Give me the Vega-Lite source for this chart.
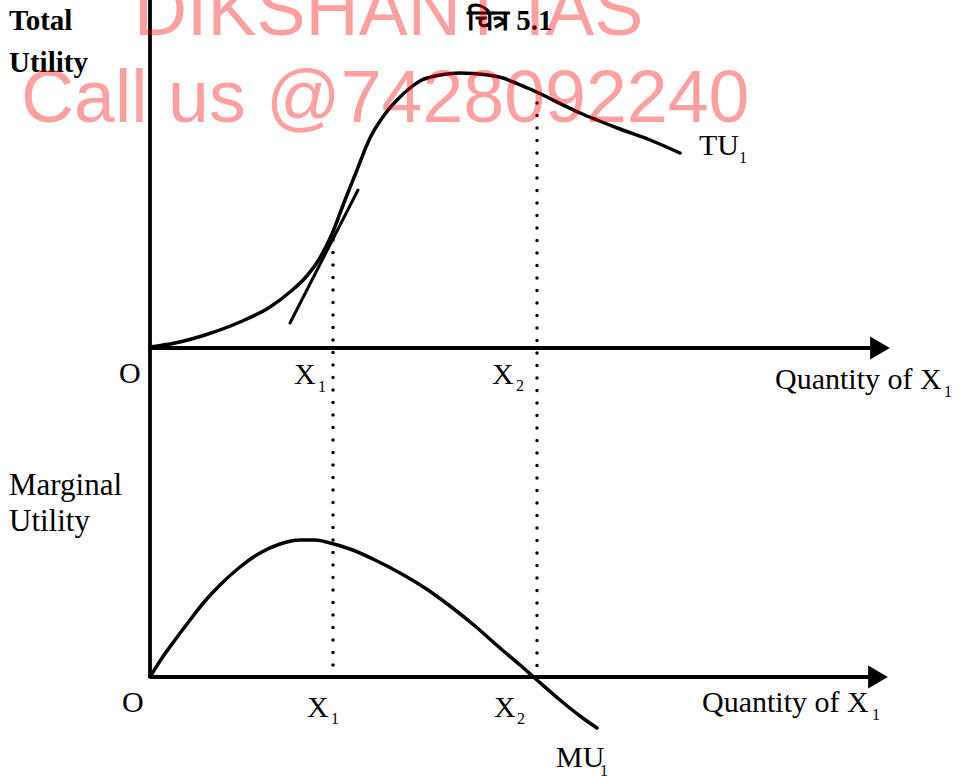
{
  "$schema": "https://vega.github.io/schema/vega-lite/v6.json",
  "width": 970,
  "height": 776,
  "autosize": {"type": "none"},
  "padding": 0,
  "background": "white",
  "config": {"view": {"stroke": null}},
  "datasets": {
    "lines": [
      {"g": "axis", "id": "vy", "o": 0, "x": 150, "y": 0},
      {"g": "axis", "id": "vy", "o": 1, "x": 150, "y": 678},
      {"g": "axis", "id": "hx1", "o": 0, "x": 150, "y": 348},
      {"g": "axis", "id": "hx1", "o": 1, "x": 872, "y": 348},
      {"g": "axis", "id": "hx2", "o": 0, "x": 150, "y": 677},
      {"g": "axis", "id": "hx2", "o": 1, "x": 870, "y": 677},

      {"g": "curve", "id": "TU", "o": 0, "x": 150, "y": 347},
      {"g": "curve", "id": "TU", "o": 1, "x": 175, "y": 343},
      {"g": "curve", "id": "TU", "o": 2, "x": 205, "y": 335},
      {"g": "curve", "id": "TU", "o": 3, "x": 240, "y": 322},
      {"g": "curve", "id": "TU", "o": 4, "x": 270, "y": 307},
      {"g": "curve", "id": "TU", "o": 5, "x": 290, "y": 292},
      {"g": "curve", "id": "TU", "o": 6, "x": 305, "y": 278},
      {"g": "curve", "id": "TU", "o": 7, "x": 318, "y": 261},
      {"g": "curve", "id": "TU", "o": 8, "x": 332, "y": 234},
      {"g": "curve", "id": "TU", "o": 9, "x": 345, "y": 200},
      {"g": "curve", "id": "TU", "o": 10, "x": 355, "y": 175},
      {"g": "curve", "id": "TU", "o": 11, "x": 370, "y": 138},
      {"g": "curve", "id": "TU", "o": 12, "x": 385, "y": 114},
      {"g": "curve", "id": "TU", "o": 13, "x": 397, "y": 100},
      {"g": "curve", "id": "TU", "o": 14, "x": 410, "y": 88},
      {"g": "curve", "id": "TU", "o": 15, "x": 420, "y": 81},
      {"g": "curve", "id": "TU", "o": 16, "x": 435, "y": 76},
      {"g": "curve", "id": "TU", "o": 17, "x": 447, "y": 74},
      {"g": "curve", "id": "TU", "o": 18, "x": 460, "y": 73},
      {"g": "curve", "id": "TU", "o": 19, "x": 473, "y": 73.5},
      {"g": "curve", "id": "TU", "o": 20, "x": 488, "y": 75},
      {"g": "curve", "id": "TU", "o": 21, "x": 503, "y": 78},
      {"g": "curve", "id": "TU", "o": 22, "x": 518, "y": 84},
      {"g": "curve", "id": "TU", "o": 23, "x": 530, "y": 89},
      {"g": "curve", "id": "TU", "o": 24, "x": 545, "y": 96},
      {"g": "curve", "id": "TU", "o": 25, "x": 563, "y": 105},
      {"g": "curve", "id": "TU", "o": 26, "x": 580, "y": 113},
      {"g": "curve", "id": "TU", "o": 27, "x": 597, "y": 120},
      {"g": "curve", "id": "TU", "o": 28, "x": 620, "y": 129},
      {"g": "curve", "id": "TU", "o": 29, "x": 650, "y": 140},
      {"g": "curve", "id": "TU", "o": 30, "x": 680, "y": 153},

      {"g": "curve", "id": "MU", "o": 0, "x": 150, "y": 677},
      {"g": "curve", "id": "MU", "o": 1, "x": 162, "y": 658},
      {"g": "curve", "id": "MU", "o": 2, "x": 175, "y": 640},
      {"g": "curve", "id": "MU", "o": 3, "x": 190, "y": 620},
      {"g": "curve", "id": "MU", "o": 4, "x": 205, "y": 601},
      {"g": "curve", "id": "MU", "o": 5, "x": 220, "y": 585},
      {"g": "curve", "id": "MU", "o": 6, "x": 240, "y": 567},
      {"g": "curve", "id": "MU", "o": 7, "x": 260, "y": 553},
      {"g": "curve", "id": "MU", "o": 8, "x": 280, "y": 544},
      {"g": "curve", "id": "MU", "o": 9, "x": 300, "y": 540},
      {"g": "curve", "id": "MU", "o": 10, "x": 315, "y": 540},
      {"g": "curve", "id": "MU", "o": 11, "x": 330, "y": 543},
      {"g": "curve", "id": "MU", "o": 12, "x": 350, "y": 549},
      {"g": "curve", "id": "MU", "o": 13, "x": 375, "y": 560},
      {"g": "curve", "id": "MU", "o": 14, "x": 400, "y": 573},
      {"g": "curve", "id": "MU", "o": 15, "x": 425, "y": 588},
      {"g": "curve", "id": "MU", "o": 16, "x": 450, "y": 606},
      {"g": "curve", "id": "MU", "o": 17, "x": 475, "y": 626},
      {"g": "curve", "id": "MU", "o": 18, "x": 500, "y": 648},
      {"g": "curve", "id": "MU", "o": 19, "x": 520, "y": 665},
      {"g": "curve", "id": "MU", "o": 20, "x": 537, "y": 680},
      {"g": "curve", "id": "MU", "o": 21, "x": 560, "y": 700},
      {"g": "curve", "id": "MU", "o": 22, "x": 580, "y": 716},
      {"g": "curve", "id": "MU", "o": 23, "x": 597, "y": 728},

      {"g": "tan", "id": "T", "o": 0, "x": 290, "y": 323},
      {"g": "tan", "id": "T", "o": 1, "x": 358, "y": 190},

      {"g": "dot", "id": "d1", "o": 0, "x": 333, "y": 240},
      {"g": "dot", "id": "d1", "o": 1, "x": 333, "y": 677},
      {"g": "dot", "id": "d2", "o": 0, "x": 537, "y": 103},
      {"g": "dot", "id": "d2", "o": 1, "x": 537, "y": 677}
    ],
    "arrows": [
      {"x": 880, "y": 348},
      {"x": 878, "y": 677}
    ],
    "labels": [
      {"t": "O", "x": 119, "y": 383},
      {"t": "X", "x": 294, "y": 384},
      {"t": "X", "x": 492, "y": 384},
      {"t": "Quantity of X", "x": 775, "y": 389},
      {"t": "TU", "x": 699, "y": 155},
      {"t": "O", "x": 122, "y": 712},
      {"t": "X", "x": 307, "y": 717},
      {"t": "X", "x": 494, "y": 717},
      {"t": "Quantity of X", "x": 702, "y": 712},
      {"t": "MU", "x": 556, "y": 767}
    ],
    "sidelabels": [
      {"t": "Marginal", "x": 9, "y": 495},
      {"t": "Utility", "x": 9, "y": 531}
    ],
    "boldlabels": [
      {"t": "Total", "x": 9, "y": 30},
      {"t": "Utility", "x": 9, "y": 72}
    ],
    "subs": [
      {"t": "1", "x": 318, "y": 392},
      {"t": "2", "x": 516, "y": 391},
      {"t": "1", "x": 944, "y": 397},
      {"t": "1", "x": 739, "y": 163},
      {"t": "1", "x": 331, "y": 724},
      {"t": "2", "x": 517, "y": 724},
      {"t": "1", "x": 872, "y": 720},
      {"t": "1", "x": 600, "y": 776}
    ],
    "title": [
      {"t": "चित्र 5.1", "x": 467, "y": 30}
    ],
    "wm": [
      {"t": "DIKSHANT IAS", "x": 134, "y": 35},
      {"t": "Call us @7428092240", "x": 21, "y": 122}
    ]
  },
  "encoding": {
    "x": {"field": "x", "type": "quantitative", "scale": {"domain": [0, 970], "nice": false, "zero": false}, "axis": null},
    "y": {"field": "y", "type": "quantitative", "scale": {"domain": [0, 776], "nice": false, "zero": false, "reverse": true}, "axis": null}
  },
  "layer": [
    {
      "data": {"name": "lines"},
      "transform": [{"filter": "datum.g == 'axis'"}],
      "mark": {"type": "line", "color": "black", "strokeWidth": 3.8, "strokeCap": "butt"},
      "encoding": {"detail": {"field": "id"}, "order": {"field": "o", "type": "quantitative"}}
    },
    {
      "data": {"name": "lines"},
      "transform": [{"filter": "datum.g == 'curve'"}],
      "mark": {"type": "line", "color": "black", "strokeWidth": 3.5, "interpolate": "monotone", "strokeCap": "round"},
      "encoding": {"detail": {"field": "id"}, "order": {"field": "o", "type": "quantitative"}}
    },
    {
      "data": {"name": "lines"},
      "transform": [{"filter": "datum.g == 'tan'"}],
      "mark": {"type": "line", "color": "black", "strokeWidth": 3, "strokeCap": "round"},
      "encoding": {"detail": {"field": "id"}, "order": {"field": "o", "type": "quantitative"}}
    },
    {
      "data": {"name": "lines"},
      "transform": [{"filter": "datum.g == 'dot'"}],
      "mark": {"type": "line", "color": "black", "strokeWidth": 3.5, "strokeCap": "round", "strokeDash": [0, 12.5]},
      "encoding": {"detail": {"field": "id"}, "order": {"field": "o", "type": "quantitative"}}
    },
    {
      "data": {"name": "arrows"},
      "mark": {"type": "point", "shape": "triangle-right", "filled": true, "color": "black", "opacity": 1, "size": 520}
    },
    {
      "data": {"name": "labels"},
      "mark": {"type": "text", "font": "Liberation Serif", "fontSize": 30, "color": "black", "align": "left", "baseline": "alphabetic"},
      "encoding": {"text": {"field": "t"}}
    },
    {
      "data": {"name": "sidelabels"},
      "mark": {"type": "text", "font": "Liberation Serif", "fontSize": 31, "color": "black", "align": "left", "baseline": "alphabetic"},
      "encoding": {"text": {"field": "t"}}
    },
    {
      "data": {"name": "boldlabels"},
      "mark": {"type": "text", "font": "Liberation Serif", "fontSize": 29, "fontWeight": "bold", "color": "black", "align": "left", "baseline": "alphabetic"},
      "encoding": {"text": {"field": "t"}}
    },
    {
      "data": {"name": "subs"},
      "mark": {"type": "text", "font": "Liberation Serif", "fontSize": 16, "color": "black", "align": "left", "baseline": "alphabetic"},
      "encoding": {"text": {"field": "t"}}
    },
    {
      "data": {"name": "title"},
      "mark": {"type": "text", "font": "Liberation Serif", "fontSize": 29, "fontWeight": "bold", "color": "black", "align": "left", "baseline": "alphabetic"},
      "encoding": {"text": {"field": "t"}}
    },
    {
      "data": {"name": "wm"},
      "mark": {"type": "text", "font": "Liberation Sans", "fontSize": 73.5, "color": "#ff0000", "opacity": 0.37, "align": "left", "baseline": "alphabetic"},
      "encoding": {"text": {"field": "t"}}
    }
  ]
}
